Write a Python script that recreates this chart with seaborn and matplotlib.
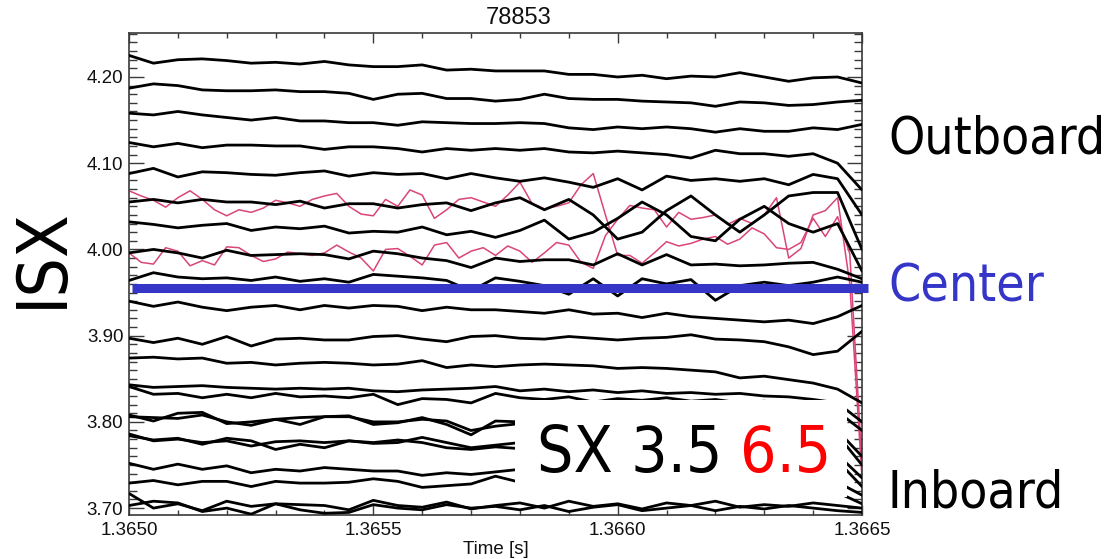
"""ISX soft X-ray channel traces for shot 78853, with the 3.5 / 6.5 labels."""
import matplotlib
matplotlib.use("Agg")
import matplotlib.pyplot as plt
from matplotlib.patches import Rectangle
from matplotlib.ticker import FixedLocator, MultipleLocator, FormatStrFormatter
import numpy as np
import pandas as pd
import seaborn as sns

# --- data ------------------------------------------------------------------
# black channels, sampled every 50 us from 1.3650 s to 1.3665 s (top -> bottom)
ch01 = [4.225, 4.216, 4.220, 4.221, 4.219, 4.216, 4.217, 4.215, 4.218, 4.214, 4.212, 4.212, 4.214, 4.208, 4.209, 4.207,
        4.207, 4.207, 4.203, 4.203, 4.200, 4.202, 4.198, 4.201, 4.200, 4.205, 4.200, 4.195, 4.199, 4.200, 4.193]
ch02 = [4.187, 4.192, 4.190, 4.185, 4.184, 4.184, 4.185, 4.183, 4.183, 4.181, 4.174, 4.180, 4.181, 4.175, 4.175, 4.172,
        4.174, 4.180, 4.175, 4.174, 4.174, 4.172, 4.171, 4.170, 4.166, 4.171, 4.170, 4.167, 4.168, 4.171, 4.173]
ch03 = [4.158, 4.156, 4.160, 4.156, 4.153, 4.150, 4.153, 4.149, 4.149, 4.147, 4.147, 4.144, 4.148, 4.147, 4.146, 4.146,
        4.147, 4.146, 4.141, 4.139, 4.142, 4.140, 4.142, 4.140, 4.136, 4.140, 4.137, 4.137, 4.141, 4.139, 4.145]
ch04 = [4.124, 4.119, 4.123, 4.118, 4.121, 4.121, 4.120, 4.120, 4.116, 4.119, 4.119, 4.117, 4.113, 4.117, 4.115, 4.117,
        4.115, 4.117, 4.113, 4.112, 4.114, 4.112, 4.110, 4.106, 4.115, 4.111, 4.111, 4.108, 4.111, 4.100, 4.069]
ch05 = [4.088, 4.094, 4.084, 4.090, 4.089, 4.087, 4.086, 4.089, 4.091, 4.085, 4.089, 4.087, 4.088, 4.082, 4.088, 4.083,
        4.079, 4.083, 4.078, 4.072, 4.082, 4.069, 4.085, 4.080, 4.082, 4.079, 4.082, 4.075, 4.087, 4.082, 4.040]
ch06 = [4.055, 4.058, 4.054, 4.058, 4.055, 4.055, 4.052, 4.056, 4.048, 4.053, 4.053, 4.048, 4.052, 4.054, 4.045, 4.054,
        4.060, 4.046, 4.058, 4.040, 4.012, 4.020, 4.045, 4.062, 4.040, 4.020, 4.040, 4.062, 4.066, 4.066, 4.000]
ch07 = [4.032, 4.029, 4.025, 4.028, 4.030, 4.022, 4.026, 4.024, 4.027, 4.019, 4.021, 4.020, 4.026, 4.017, 4.021, 4.014,
        4.022, 4.034, 4.012, 4.020, 4.036, 4.055, 4.040, 4.015, 4.010, 4.035, 4.050, 4.030, 4.020, 4.030, 3.975]
ch08 = [3.996, 4.000, 3.996, 3.990, 3.999, 3.993, 3.994, 3.995, 3.994, 3.989, 3.998, 3.995, 3.990, 3.987, 3.979, 3.990,
        3.986, 3.988, 3.988, 3.982, 3.995, 3.982, 3.994, 3.982, 3.983, 3.981, 3.982, 3.984, 3.985, 3.977, 3.966]
ch09 = [3.964, 3.973, 3.968, 3.966, 3.967, 3.964, 3.968, 3.963, 3.966, 3.962, 3.971, 3.969, 3.967, 3.964, 3.952, 3.967,
        3.963, 3.958, 3.948, 3.966, 3.946, 3.966, 3.960, 3.965, 3.941, 3.958, 3.962, 3.958, 3.962, 3.968, 3.962]
ch10 = [3.940, 3.934, 3.939, 3.933, 3.929, 3.933, 3.935, 3.930, 3.935, 3.932, 3.935, 3.934, 3.929, 3.933, 3.930, 3.930,
        3.928, 3.926, 3.930, 3.925, 3.926, 3.921, 3.926, 3.922, 3.920, 3.918, 3.916, 3.918, 3.914, 3.922, 3.935]
ch11 = [3.897, 3.892, 3.897, 3.890, 3.899, 3.888, 3.896, 3.897, 3.895, 3.895, 3.899, 3.900, 3.896, 3.893, 3.899, 3.900,
        3.897, 3.896, 3.899, 3.897, 3.895, 3.897, 3.898, 3.901, 3.896, 3.895, 3.893, 3.887, 3.878, 3.882, 3.905]
ch12 = [3.874, 3.875, 3.873, 3.874, 3.868, 3.869, 3.866, 3.868, 3.869, 3.868, 3.866, 3.867, 3.871, 3.863, 3.866, 3.864,
        3.866, 3.867, 3.866, 3.865, 3.862, 3.863, 3.862, 3.860, 3.858, 3.851, 3.853, 3.849, 3.845, 3.838, 3.822]
ch13 = [3.843, 3.840, 3.841, 3.842, 3.840, 3.839, 3.838, 3.839, 3.838, 3.839, 3.836, 3.835, 3.837, 3.838, 3.839, 3.841,
        3.836, 3.838, 3.835, 3.837, 3.834, 3.836, 3.833, 3.834, 3.832, 3.833, 3.830, 3.829, 3.826, 3.822, 3.800]
ch14 = [3.841, 3.832, 3.833, 3.828, 3.832, 3.828, 3.833, 3.829, 3.830, 3.828, 3.832, 3.820, 3.827, 3.826, 3.822, 3.833,
        3.828, 3.826, 3.829, 3.823, 3.827, 3.825, 3.828, 3.824, 3.826, 3.822, 3.824, 3.820, 3.818, 3.812, 3.790]
ch15 = [3.806, 3.805, 3.804, 3.808, 3.800, 3.796, 3.803, 3.805, 3.806, 3.807, 3.797, 3.799, 3.805, 3.797, 3.785, 3.801,
        3.800, 3.805, 3.797, 3.802, 3.799, 3.804, 3.798, 3.801, 3.796, 3.800, 3.797, 3.799, 3.795, 3.790, 3.760]
ch16 = [3.808, 3.801, 3.810, 3.811, 3.798, 3.800, 3.803, 3.797, 3.806, 3.806, 3.800, 3.800, 3.803, 3.801, 3.790, 3.795,
        3.798, 3.802, 3.806, 3.799, 3.803, 3.797, 3.801, 3.798, 3.802, 3.796, 3.799, 3.794, 3.797, 3.785, 3.750]
ch17 = [3.786, 3.778, 3.780, 3.776, 3.778, 3.772, 3.777, 3.778, 3.776, 3.778, 3.775, 3.776, 3.782, 3.776, 3.770, 3.773,
        3.776, 3.772, 3.778, 3.774, 3.777, 3.771, 3.775, 3.772, 3.776, 3.770, 3.773, 3.769, 3.771, 3.762, 3.735]
ch18 = [3.784, 3.779, 3.781, 3.774, 3.781, 3.778, 3.768, 3.774, 3.770, 3.778, 3.776, 3.779, 3.776, 3.770, 3.768, 3.771,
        3.769, 3.774, 3.770, 3.775, 3.768, 3.772, 3.769, 3.773, 3.767, 3.771, 3.768, 3.770, 3.764, 3.755, 3.725]
ch19 = [3.752, 3.745, 3.751, 3.745, 3.749, 3.741, 3.745, 3.743, 3.747, 3.745, 3.743, 3.743, 3.738, 3.741, 3.739, 3.742,
        3.745, 3.740, 3.744, 3.738, 3.742, 3.739, 3.743, 3.737, 3.741, 3.738, 3.740, 3.736, 3.738, 3.730, 3.715]
ch20 = [3.729, 3.732, 3.727, 3.731, 3.731, 3.725, 3.731, 3.729, 3.729, 3.730, 3.734, 3.731, 3.724, 3.726, 3.728, 3.737,
        3.730, 3.733, 3.727, 3.731, 3.726, 3.730, 3.728, 3.732, 3.726, 3.729, 3.725, 3.728, 3.724, 3.718, 3.705]
ch21 = [3.717, 3.700, 3.705, 3.697, 3.708, 3.702, 3.705, 3.704, 3.703, 3.698, 3.709, 3.703, 3.701, 3.707, 3.699, 3.703,
        3.706, 3.700, 3.708, 3.702, 3.705, 3.699, 3.706, 3.703, 3.708, 3.701, 3.704, 3.702, 3.706, 3.703, 3.700]
ch22 = [3.703, 3.708, 3.706, 3.696, 3.700, 3.693, 3.705, 3.698, 3.694, 3.695, 3.704, 3.700, 3.698, 3.704, 3.700, 3.702,
        3.698, 3.703, 3.696, 3.701, 3.704, 3.697, 3.700, 3.703, 3.697, 3.702, 3.699, 3.703, 3.700, 3.697, 3.695]

# the two 6.5 channels (pink), sampled every 25 us
sx65_upper = [4.068, 4.062, 4.057, 4.049, 4.060, 4.068, 4.058, 4.046, 4.039, 4.046, 4.043, 4.048, 4.057, 4.054, 4.050,
              4.058, 4.062, 4.065, 4.050, 4.041, 4.039, 4.058, 4.050, 4.069, 4.063, 4.036, 4.046, 4.058, 4.060, 4.055,
              4.050, 4.063, 4.078, 4.053, 4.047, 4.050, 4.054, 4.075, 4.088, 4.040, 3.993, 3.993, 3.984, 3.996, 4.009,
              4.004, 4.007, 4.012, 4.015, 4.006, 4.012, 4.025, 4.018, 4.002, 4.000, 4.008, 4.036, 4.015, 4.038, 3.995,
              3.750]
sx65_lower = [3.996, 3.985, 3.983, 4.002, 3.998, 3.981, 3.987, 3.982, 4.003, 4.002, 3.993, 3.986, 3.989, 3.997, 3.995,
              3.993, 3.996, 4.005, 3.997, 3.990, 3.975, 4.000, 4.001, 3.992, 3.982, 4.005, 4.008, 3.990, 3.998, 4.002,
              3.993, 4.004, 3.998, 3.985, 3.996, 4.008, 4.005, 3.985, 3.978, 4.016, 4.035, 4.051, 4.048, 4.046, 4.026,
              4.043, 4.035, 4.037, 4.040, 4.029, 4.036, 4.030, 4.040, 4.060, 3.990, 4.001, 4.040, 4.045, 4.060, 3.960,
              3.735]

center_level = 3.955
x_major_ticks = [1.3650, 1.3655, 1.3660, 1.3665]
y_major_ticks = [3.70, 3.80, 3.90, 4.00, 4.10, 4.20]

black_channels = [ch01, ch02, ch03, ch04, ch05, ch06, ch07, ch08, ch09, ch10, ch11,
                  ch12, ch13, ch14, ch15, ch16, ch17, ch18, ch19, ch20, ch21, ch22]
pink_channels = [sx65_upper, sx65_lower]

PINK = "#d9457a"
BLUE = "#3535c8"
AXIS_GREY = "#3a3a3a"
TEXT = "#111111"


def _long_form(channels, t0, t1):
    frames = []
    for i, vals in enumerate(channels):
        t = np.linspace(t0, t1, len(vals))
        frames.append(pd.DataFrame({"time": t, "isx": vals, "channel": i}))
    return pd.concat(frames, ignore_index=True)


sns.set_style("ticks")
plt.rcParams["font.family"] = ["Liberation Sans", "DejaVu Sans"]

W, H = 1108, 559
fig = plt.figure(figsize=(W / 100, H / 100), dpi=100)
ax = fig.add_axes([129 / W, 1 - 515 / H, 733 / W, 482 / H])

pink_df = _long_form(pink_channels, 1.3650, 1.3665)
black_df = _long_form(black_channels, 1.3650, 1.3665)

sns.lineplot(data=pink_df, x="time", y="isx", units="channel", estimator=None, sort=False,
             color=PINK, lw=1.1, legend=False, ax=ax, zorder=2)
sns.lineplot(data=black_df, x="time", y="isx", units="channel", estimator=None, sort=False,
             color="black", lw=2.0, legend=False, ax=ax, zorder=3)

# the magnetic axis marker, runs a bit past the right spine
ax.plot([1.3650055, 1.3665123], [center_level, center_level], color=BLUE, lw=6.5,
        solid_capstyle="butt", clip_on=False, zorder=6)

ax.set_xlim(1.3650, 1.3665)
ax.set_ylim(3.692, 4.251)
ax.set_xlabel("")
ax.set_ylabel("")

ax.xaxis.set_major_locator(FixedLocator(x_major_ticks))
ax.xaxis.set_minor_locator(MultipleLocator(0.0001))
ax.xaxis.set_major_formatter(FormatStrFormatter("%.4f"))
ax.yaxis.set_major_locator(FixedLocator(y_major_ticks))
ax.yaxis.set_minor_locator(MultipleLocator(0.01))
ax.yaxis.set_major_formatter(FormatStrFormatter("%.2f"))

ax.tick_params(which="both", direction="in", top=True, right=True, color=AXIS_GREY,
               labelsize=13.5, labelcolor=TEXT, width=1.0)
ax.tick_params(axis="x", which="major", length=7.5, pad=5)
ax.tick_params(axis="x", which="minor", length=3.8)
ax.tick_params(axis="y", which="major", length=11, pad=4)
ax.tick_params(axis="y", which="minor", length=5.5)
for sp in ax.spines.values():
    sp.set_color(AXIS_GREY)
    sp.set_linewidth(1.2)

# white label box inside the lower right of the axes
ax.add_patch(Rectangle((1.36579, 3.7129), 0.00068, 0.1123, facecolor="white",
                       edgecolor="none", zorder=7))

big = dict(family=["DejaVu Sans"], fontstretch="condensed")
fig.text(537 / W, 1 - 472 / H, "SX 3.5", fontsize=46, color="black", va="baseline", ha="left", zorder=8, **big)
fig.text(740 / W, 1 - 472 / H, "6.5", fontsize=46, color="#ff0000", va="baseline", ha="left", zorder=8, **big)

fig.text(519 / W, 1 - 18 / H, "78853", fontsize=17, ha="center", va="center", color=TEXT)
fig.text(495.5 / W, 1 - 550 / H, "Time [s]", fontsize=13.5, ha="center", va="center", color=TEXT)

fig.text(42 / W, 1 - 258 / H, "ISX", fontsize=50, rotation=90, ha="center", va="center", color="black", **big)
fig.text(888 / W, 1 - 140 / H, "Outboard", fontsize=37, ha="left", va="center", color="black", **big)
fig.text(888 / W, 1 - 287 / H, "Center", fontsize=37, ha="left", va="center", color=BLUE, **big)
fig.text(888 / W, 1 - 493 / H, "Inboard", fontsize=37, ha="left", va="center", color="black", **big)

fig.savefig("out.png", dpi=100)
